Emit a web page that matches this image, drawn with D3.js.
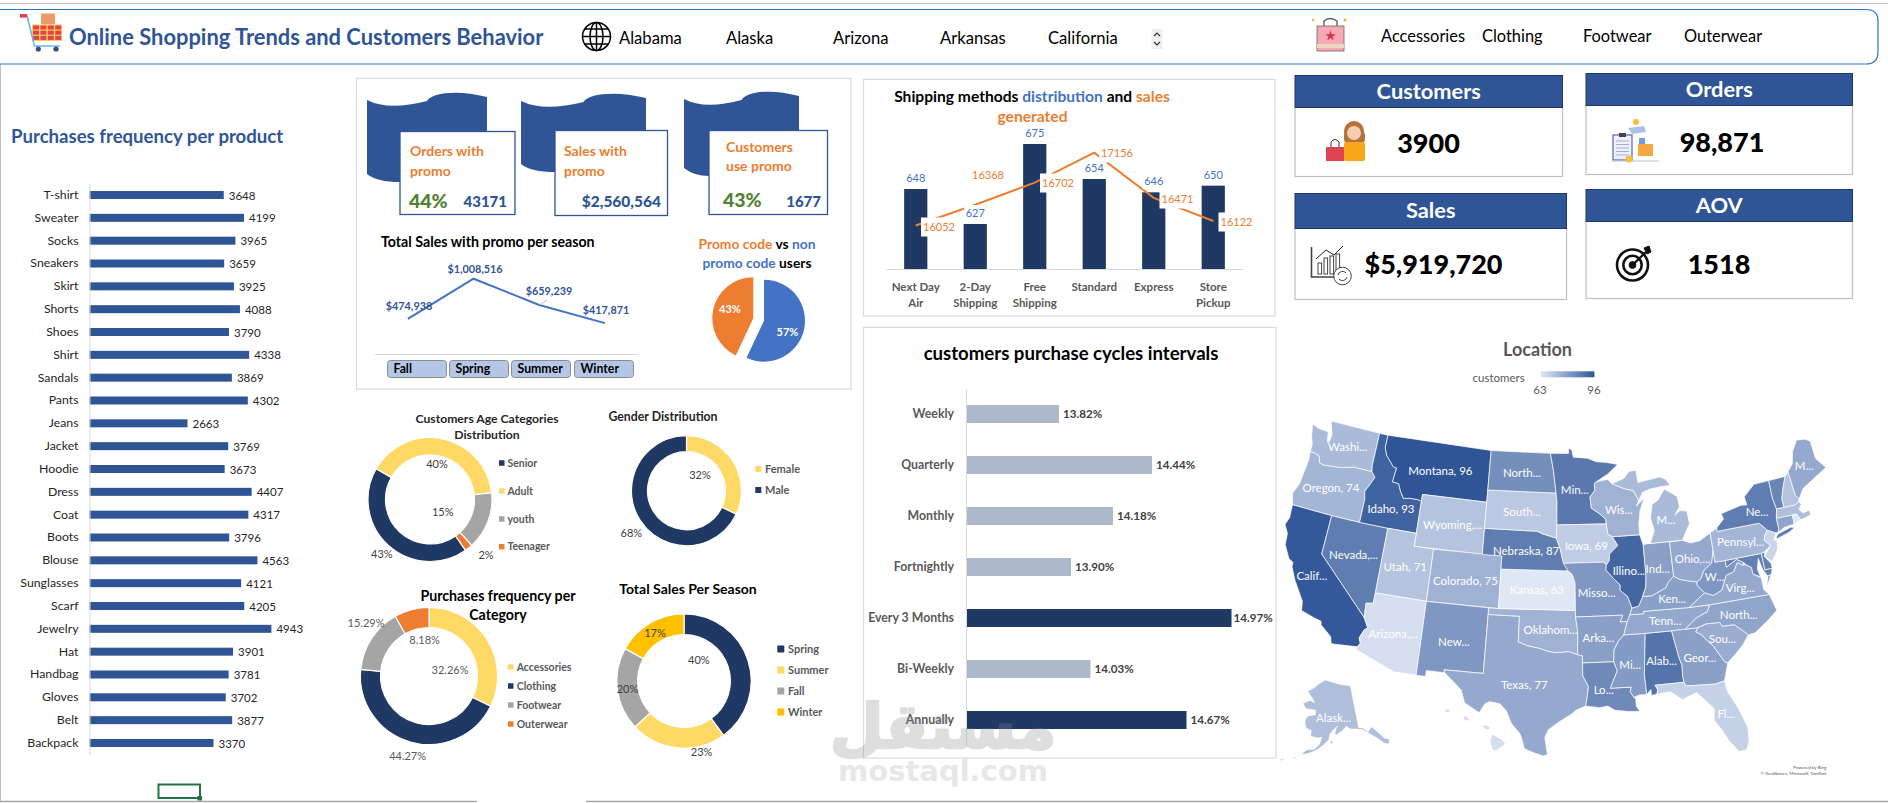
<!DOCTYPE html>
<html>
<head>
<meta charset="utf-8">
<script src="https://cdn.jsdelivr.net/npm/d3@7.9.0/dist/d3.min.js"></script>
<style>
  html, body { margin: 0; padding: 0; background: #fff; overflow: hidden; }
  svg { display: block; font-family: Lato, "Noto Sans", sans-serif; }
</style>
</head>
<body>
<svg id="board" width="1888" height="803"></svg>
<script>
// ---- data ----
const stateNames = ['Alabama', 'Alaska', 'Arizona', 'Arkansas', 'California'];
const categoryNames = ['Accessories', 'Clothing', 'Footwear', 'Outerwear'];

const products = ['T-shirt', 'Sweater', 'Socks', 'Sneakers', 'Skirt', 'Shorts', 'Shoes', 'Shirt', 'Sandals', 'Pants', 'Jeans', 'Jacket', 'Hoodie', 'Dress', 'Coat', 'Boots', 'Blouse', 'Sunglasses', 'Scarf', 'Jewelry', 'Hat', 'Handbag', 'Gloves', 'Belt', 'Backpack'];
const productCounts = [3648, 4199, 3965, 3659, 3925, 4088, 3790, 4338, 3869, 4302, 2663, 3769, 3673, 4407, 4317, 3796, 4563, 4121, 4205, 4943, 3901, 3781, 3702, 3877, 3370];

const seasons = ['Fall', 'Spring', 'Summer', 'Winter'];
const promoSales = [474938, 1008516, 659239, 417871];
const promoShare = [57, 43];

const shipMethods = ['Next Day Air', '2-Day Shipping', 'Free Shipping', 'Standard', 'Express', 'Store Pickup'];
const shipCounts = [648, 627, 675, 654, 646, 650];
const shipSales = [16052, 16368, 16702, 17156, 16471, 16122];

const cycles = ['Weekly', 'Quarterly', 'Monthly', 'Fortnightly', 'Every 3 Months', 'Bi-Weekly', 'Annually'];
const cycleShares = [13.82, 14.44, 14.18, 13.90, 14.97, 14.03, 14.67];

const ageNames = ['Senior', 'Adult', 'youth', 'Teenager'];
const ageShares = [43, 40, 15, 2];
const genderNames = ['Female', 'Male'];
const genderShares = [32, 68];
const categoryShares = [32.26, 44.27, 15.29, 8.18];
const seasonNames = ['Spring', 'Summer', 'Fall', 'Winter'];
const seasonShares = [40, 23, 20, 17];

const customersByState = {
  Alabama: 89, Alaska: 72, Arizona: 65, Arkansas: 79, California: 95, Colorado: 75, Connecticut: 78, Delaware: 86,
  Florida: 68, Georgia: 79, Hawaii: 65, Idaho: 93, Illinois: 92, Indiana: 79, Iowa: 69, Kansas: 63, Kentucky: 79,
  Louisiana: 84, Maine: 77, Maryland: 86, Massachusetts: 72, Michigan: 73, Minnesota: 88, Mississippi: 80,
  Missouri: 81, Montana: 96, Nebraska: 87, Nevada: 87, 'New Hampshire': 71, 'New Jersey': 67, 'New Mexico': 81,
  'New York': 87, 'North Carolina': 78, 'North Dakota': 83, Ohio: 77, Oklahoma: 75, Oregon: 74, Pennsylvania: 74,
  'Rhode Island': 63, 'South Carolina': 76, 'South Dakota': 70, Tennessee: 77, Texas: 77, Utah: 71, Vermont: 85,
  Virginia: 77, Washington: 73, 'West Virginia': 81, Wisconsin: 75, Wyoming: 71
};

// state outlines, lon,lat, simplified by hand; a "|" starts another ring
const stateOutlines = {
  Washington: '-124.73,48.38 -123.9,48.17 -123.1,48.15 -122.75,48.12 -122.55,47.35 -122.35,47.4 -122.25,48 -122.5,48.45 -122.76,49 -117.03,49 -117.04,46.42 -116.92,45.99 -118.98,46 -119.3,45.93 -120.5,45.7 -121.2,45.65 -122.2,45.57 -122.75,45.65 -122.95,46.12 -123.45,46.25 -124.05,46.27 -124.1,46.9 -124.4,47.4',
  Oregon: '-124.05,46.27 -123.45,46.25 -122.95,46.12 -122.75,45.65 -122.2,45.57 -121.2,45.65 -120.5,45.7 -119.3,45.93 -118.98,46 -116.92,45.99 -116.47,45.6 -116.85,44.95 -117.22,44.4 -117.03,43.8 -117.03,42 -120,42 -124.21,42 -124.55,42.84 -124.15,43.7 -124.05,44.7 -123.95,45.6',
  California: '-124.21,42 -120,42 -120,39 -114.63,35 -114.13,34.3 -114.43,34.05 -114.72,33.4 -114.52,33.03 -114.72,32.72 -117.12,32.53 -117.3,33.05 -118.4,33.75 -118.5,34.03 -119.2,34.15 -120.5,34.45 -120.65,35.15 -121.9,36.6 -122.5,37.5 -122.5,37.8 -123,38 -123.75,38.95 -123.85,39.8 -124.35,40.4 -124.1,41',
  Nevada: '-120,42 -117.03,42 -114.04,42 -114.04,37 -114.05,36.2 -114.73,36.1 -114.63,35 -120,39',
  Idaho: '-117.03,49 -116.05,49 -116.05,48 -115.7,47.45 -114.75,46.7 -114.35,46.65 -114.5,45.55 -113.8,45.5 -113.45,44.95 -113,44.45 -112.3,44.55 -111.5,44.55 -111.05,44.48 -111.05,42 -114.04,42 -117.03,42 -117.03,43.8 -117.22,44.4 -116.85,44.95 -116.47,45.6 -116.92,45.99 -117.04,46.42',
  Montana: '-116.05,49 -104.05,49 -104.05,45 -111.05,45 -111.05,44.48 -111.5,44.55 -112.3,44.55 -113,44.45 -113.45,44.95 -113.8,45.5 -114.5,45.55 -114.35,46.65 -114.75,46.7 -115.7,47.45 -116.05,48',
  Wyoming: '-111.05,45 -104.05,45 -104.05,41 -111.05,41',
  Utah: '-114.04,42 -111.05,42 -111.05,41 -109.05,41 -109.05,37 -114.04,37',
  Colorado: '-109.05,41 -102.05,41 -102.05,37 -109.05,37',
  Arizona: '-114.04,37 -109.05,37 -109.05,31.33 -111.07,31.33 -114.8,32.5 -114.72,32.72 -114.52,33.03 -114.72,33.4 -114.43,34.05 -114.13,34.3 -114.63,35 -114.73,36.1 -114.05,36.2',
  'New Mexico': '-109.05,37 -103,37 -103.05,32 -106.62,32 -106.53,31.78 -108.2,31.78 -108.2,31.33 -109.05,31.33',
  Texas: '-103,36.5 -100,36.5 -100,34.56 -99.2,34.3 -98.1,34.13 -97.2,33.9 -96.5,33.8 -95.3,33.88 -94.48,33.64 -94.04,33.55 -94.04,33 -94.04,32 -93.55,31.2 -93.7,30.3 -93.85,29.7 -94.7,29.4 -95.1,29.1 -96.2,28.5 -97.1,27.9 -97.4,27.3 -97.15,26 -97.5,25.87 -98.3,26.1 -99.1,26.4 -99.5,27.5 -100.3,28.3 -100.8,29.25 -101.4,29.77 -102.3,29.88 -102.7,29.7 -103.15,28.98 -104.5,29.65 -104.9,30.6 -106.53,31.78 -106.62,32 -103.05,32',
  Oklahoma: '-103,37 -102.05,37 -94.62,37 -94.62,36.5 -94.43,35.4 -94.48,33.64 -95.3,33.88 -96.5,33.8 -97.2,33.9 -98.1,34.13 -99.2,34.3 -100,34.56 -100,36.5 -103,36.5',
  Kansas: '-102.05,40 -95.3,40 -94.9,39.75 -94.62,39.1 -94.62,37 -102.05,37',
  Nebraska: '-104.05,43 -98.5,43 -97.9,42.8 -96.5,42.5 -96.1,41.7 -95.9,41 -95.3,40 -102.05,40 -102.05,41 -104.05,41',
  'South Dakota': '-104.05,45.94 -96.56,45.94 -96.45,45.3 -96.45,43.5 -96.5,42.5 -97.9,42.8 -98.5,43 -104.05,43',
  'North Dakota': '-104.05,49 -97.23,49 -96.85,47.6 -96.56,45.94 -104.05,45.94',
  Minnesota: '-97.23,49 -95.15,49 -95.15,49.38 -94.8,49.3 -94.6,48.7 -93,48.6 -92,48.3 -90.8,48.2 -89.6,48 -90.8,47.3 -92.1,46.75 -92.3,46.65 -92.3,46.1 -92.85,45.6 -92.75,44.75 -91.9,44.3 -91.25,43.85 -91.22,43.5 -96.45,43.5 -96.45,45.3 -96.56,45.94 -96.85,47.6',
  Iowa: '-96.45,43.5 -91.22,43.5 -91.1,42.7 -90.65,42.5 -90.15,41.8 -91.05,41.2 -91.1,40.7 -91.42,40.38 -91.7,40.6 -95.77,40.58 -95.9,41 -96.1,41.7 -96.5,42.5',
  Missouri: '-95.77,40.58 -91.7,40.6 -91.42,40.38 -91.5,40 -90.75,39.3 -90.15,38.8 -90.2,38.4 -89.5,37.9 -89.15,37 -89.4,36.5 -89.7,36 -90.37,36 -90.1,36.5 -94.62,36.5 -94.62,37 -94.62,39.1 -94.9,39.75 -95.3,40',
  Arkansas: '-94.62,36.5 -90.1,36.5 -90.37,36 -89.7,36 -90.1,35 -90.6,34.6 -91.1,33.9 -91.17,33 -94.04,33 -94.04,33.55 -94.48,33.64 -94.43,35.4',
  Louisiana: '-94.04,33 -91.17,33 -90.9,32.3 -91.6,31 -89.73,31 -89.85,30.65 -89.55,30.2 -89.4,30.05 -89.4,29.5 -89.1,29.1 -90.1,29.15 -91.3,29.3 -91.9,29.65 -92.6,29.55 -93.85,29.7 -93.7,30.3 -93.55,31.2 -94.04,32',
  Mississippi: '-90.1,35 -88.2,35 -88.1,34.9 -88.47,31.9 -88.4,30.35 -89.1,30.35 -89.55,30.2 -89.85,30.65 -89.73,31 -91.6,31 -90.9,32.3 -91.17,33 -91.1,33.9 -90.6,34.6',
  Alabama: '-88.2,35 -85.6,35 -85.18,32.87 -85,32.3 -85.05,31.55 -85,31 -87.6,31 -87.4,30.65 -87.5,30.3 -88,30.25 -88,30.7 -88.4,30.35 -88.47,31.9 -88.1,34.9',
  Tennessee: '-89.7,36 -89.4,36.5 -88.07,36.5 -88.07,36.68 -83.68,36.6 -81.68,36.59 -82,36.1 -83.1,35.75 -84.3,35 -85.6,35 -88.2,35 -90.1,35',
  Kentucky: '-89.4,36.5 -89.15,37 -88.5,37.1 -88.05,37.8 -87.1,37.8 -86.3,38.1 -85.7,38.3 -85.4,38.7 -84.8,39.1 -84.2,38.8 -83.6,38.65 -82.6,38.45 -82.6,38.15 -82,37.55 -83.68,36.6 -88.07,36.68 -88.07,36.5',
  Illinois: '-90.65,42.5 -87.8,42.5 -87.53,41.7 -87.53,39.35 -87.65,38.5 -88.05,37.8 -88.5,37.1 -89.15,37 -89.5,37.9 -90.2,38.4 -90.15,38.8 -90.75,39.3 -91.5,40 -91.42,40.38 -91.1,40.7 -91.05,41.2 -90.15,41.8',
  Indiana: '-87.53,41.7 -87.2,41.76 -84.8,41.76 -84.8,39.1 -85.4,38.7 -85.7,38.3 -86.3,38.1 -87.1,37.8 -88.05,37.8 -87.65,38.5 -87.53,39.35',
  Ohio: '-84.8,41.72 -83.45,41.73 -82.7,41.45 -81.7,41.5 -80.52,41.98 -80.52,40.64 -80.85,39.7 -81.7,39.25 -82.2,38.6 -82.6,38.45 -83.6,38.65 -84.2,38.8 -84.8,39.1',
  Michigan: '-86.8,41.76 -84.8,41.76 -83.45,41.73 -83.1,42.2 -82.5,42.9 -82.6,43.9 -83.3,44 -83.9,43.7 -83.3,44.3 -83.4,45.1 -84.7,45.78 -85.5,45 -86.2,44.7 -86.5,43.7 -86.25,42.7|-90.4,46.55 -89,46.9 -88.4,47.4 -87.6,47.45 -87.5,46.5 -85,46.75 -84.4,46.5 -84,46 -85,46 -86.3,45.9 -87.1,45.7 -87.6,45.1 -88.1,45.9 -89.1,46.1',
  Wisconsin: '-92.1,46.75 -90.8,46.9 -90.4,46.55 -89.1,46.1 -88.1,45.9 -87.6,45.1 -87.9,44.7 -87,45.25 -87.55,44.3 -87.8,43.3 -87.8,42.5 -90.65,42.5 -91.1,42.7 -91.22,43.5 -91.25,43.85 -91.9,44.3 -92.75,44.75 -92.85,45.6 -92.3,46.1 -92.3,46.65',
  Georgia: '-85.6,35 -84.3,35 -83.1,35 -83.35,34.7 -82.9,34.45 -81.9,33.4 -81.1,32.1 -80.85,32.03 -81.4,30.7 -82,30.6 -82.2,30.55 -84.85,30.7 -85,31 -85.05,31.55 -85,32.3 -85.18,32.87',
  Florida: '-87.6,31 -85,31 -84.85,30.7 -82.2,30.55 -82,30.6 -81.4,30.7 -81.3,29.9 -80.55,28.4 -80.05,26.9 -80.15,25.75 -80.45,25.2 -81.1,25.15 -81.8,26.1 -82.2,26.9 -82.8,27.85 -82.65,28.7 -83.4,29.5 -84,30.1 -85.3,29.7 -86.3,30.4 -87.5,30.3 -87.4,30.65',
  'South Carolina': '-83.35,34.7 -83.1,35 -82.3,35.2 -81,35.15 -80.8,34.82 -79.68,34.8 -78.55,33.86 -79.2,33.2 -80,32.6 -80.85,32.03 -81.1,32.1 -81.9,33.4 -82.9,34.45',
  'North Carolina': '-84.3,35 -83.1,35.75 -82,36.1 -81.68,36.59 -75.87,36.55 -75.5,35.25 -76.5,34.65 -77.9,33.9 -78.55,33.86 -79.68,34.8 -80.8,34.82 -81,35.15 -82.3,35.2 -83.1,35',
  Virginia: '-83.68,36.6 -81.68,36.59 -75.87,36.55 -76.3,37 -76.3,37.9 -77,38.3 -77.05,38.85 -77.5,39.1 -77.83,39.14 -78.35,39.4 -78.85,38.75 -79.65,38.6 -80.3,37.55 -81.2,37.25 -82,37.55|-75.95,37.15 -75.25,38.03 -75.65,37.95',
  'West Virginia': '-82.6,38.45 -82.2,38.6 -81.7,39.25 -80.85,39.7 -80.52,40.64 -80.52,39.72 -79.48,39.72 -79.48,39.2 -78.35,39.65 -77.72,39.32 -77.83,39.14 -78.35,39.4 -78.85,38.75 -79.65,38.6 -80.3,37.55 -81.2,37.25 -82,37.55 -82.6,38.15',
  Maryland: '-79.48,39.72 -75.79,39.72 -75.79,38.45 -75.05,38.45 -75.25,38.03 -75.65,37.95 -76,38.5 -76.2,39.4 -76.5,38.6 -76.35,38 -77,38.3 -77.05,38.85 -77.5,39.1 -77.72,39.32 -78.35,39.65 -79.48,39.2',
  Delaware: '-75.79,39.72 -75.45,39.8 -75.55,39.45 -75.05,38.8 -75.05,38.45 -75.79,38.45',
  Pennsylvania: '-80.52,41.98 -79.76,42.27 -79.76,42 -75.35,42 -74.7,41.36 -75.1,40.95 -75.2,40.65 -74.72,40.15 -75.45,39.8 -75.79,39.72 -79.48,39.72 -80.52,39.72 -80.52,40.64',
  'New Jersey': '-74.7,41.36 -73.9,41 -74.25,40.5 -73.98,40.4 -74.1,39.75 -74.9,38.95 -75.55,39.45 -74.72,40.15 -75.2,40.65 -75.1,40.95',
  'New York': '-79.76,42.27 -78.9,42.85 -79.05,43.27 -76.8,43.63 -76.2,43.55 -76.3,44.2 -75,44.98 -73.35,45 -73.4,43.6 -73.25,42.75 -73.5,42.05 -73.5,41.3 -73.65,41 -73.9,41 -74.7,41.36 -75.35,42 -79.76,42|-74,40.6 -73.75,40.87 -72.3,41.15 -71.9,41.05 -72.6,40.8 -73.9,40.55',
  Vermont: '-73.35,45 -71.5,45.01 -72.05,44.2 -72.45,43.4 -72.46,42.73 -73.25,42.75 -73.4,43.6',
  'New Hampshire': '-71.5,45.01 -71.08,45.3 -70.98,43.4 -70.7,43.07 -70.82,42.87 -71.3,42.7 -72.46,42.73 -72.45,43.4 -72.05,44.2',
  Maine: '-71.08,45.3 -70.4,45.8 -70,46.7 -69.23,47.46 -68.3,47.35 -67.8,47.07 -67.8,45.7 -67.45,45.3 -67,44.8 -68.5,44.3 -70,43.75 -70.7,43.07 -70.98,43.4',
  Massachusetts: '-73.5,42.05 -73.25,42.75 -72.46,42.73 -71.3,42.7 -70.82,42.87 -70.6,42.65 -71,42.3 -70.65,41.95 -70,42.05 -69.95,41.68 -70.65,41.55 -71.12,41.5 -71.38,42.02 -71.8,42.02',
  Connecticut: '-73.5,42.05 -71.8,42.02 -71.85,41.32 -72.9,41.25 -73.65,41 -73.5,41.3',
  'Rhode Island': '-71.8,42.02 -71.38,42.02 -71.12,41.5 -71.85,41.32',
  Alaska: '-141,69.65 -141,60.3 -139,59.9 -137.5,58.9 -135.5,59.8 -133.8,58.5 -131.8,56.6 -130,55.9 -130.9,55 -132.5,55.5 -134.5,57 -136.5,58.1 -139.5,59.6 -142,60 -144.5,60.2 -146.5,60.9 -148.5,60 -150.8,59.3 -151.8,59.2 -151,60.8 -150,61.2 -152.5,60.3 -153.8,59.4 -154.2,58.2 -156.5,57 -158.8,55.9 -161,55.2 -163,54.7 -164.9,54.6 -162.5,55.8 -160,56 -158,57.2 -157.3,58.7 -158.8,58.5 -162,58.7 -162,60 -164.5,60.4 -165.5,61.7 -165,62.7 -164,63.1 -161,63.5 -161,64.5 -166,64.5 -168.1,65.6 -164.5,66.5 -162,66.1 -163.8,67.1 -166.8,68.35 -163,69.5 -161,70.3 -156.6,71.35 -152,70.85 -146,70.1|-168,53.2 -166.2,53.9 -166.6,53.4|-154,57.9 -152.4,58 -153.2,57.1|-172.5,52.3 -170.5,52.9 -171,52.3',
  Hawaii: '-155.9,20.25 -155.1,19.85 -154.8,19.5 -155.65,18.95 -155.9,19.1 -156.05,19.7|-156.7,20.95 -156.25,20.95 -156,20.7 -156.4,20.58|-158.25,21.55 -157.95,21.7 -157.65,21.3 -158.1,21.3|-159.75,22.1 -159.4,22.23 -159.3,22 -159.6,21.9'
};

// the truncated Bing labels and where they hang, lon,lat
const stateLabels = [
  ['Washi...', -120.2, 47.4], ['Montana, 96', -109.5, 47.0], ['North...', -100.4, 47.4], ['Min...', -94.5, 46.2],
  ['Oregon, 74', -120.8, 44.0], ['Idaho, 93', -114.1, 43.5], ['South...', -100.2, 44.4], ['Wyoming,...', -107.4, 43.0],
  ['Wis...', -89.8, 44.5], ['M...', -84.9, 43.4], ['Ne...', -75.3, 42.9], ['M...', -69.2, 45.4],
  ['Nebraska, 87', -99.6, 41.5], ['Iowa, 69', -93.4, 41.9], ['Pennsyl...', -77.6, 40.9], ['Ohio,...', -82.7, 40.2],
  ['Ind...', -86.3, 39.8], ['Illino...', -89.2, 39.8], ['Nevada,...', -116.9, 39.5], ['Utah, 71', -111.6, 39.3],
  ['Colorado, 75', -105.5, 38.9], ['Kansas, 63', -98.4, 38.5], ['Misso...', -92.5, 38.3], ['W...', -80.8, 38.6],
  ['Virg...', -78.5, 37.5], ['Calif...', -120.4, 37.2], ['Ken...', -85.2, 37.4], ['Tenn...', -86.1, 35.8],
  ['North...', -79.1, 35.5], ['Oklahom...', -97.0, 35.5], ['Arka...', -92.5, 34.9], ['Arizona,...', -111.7, 34.2],
  ['New...', -106.0, 34.2], ['Sou...', -81, 33.9], ['Geor...', -83.3, 32.7], ['Alab...', -86.8, 32.8],
  ['Mi...', -89.7, 32.7], ['Lo...', -92.2, 30.9], ['Texas, 77', -99.3, 31.3], ['Fl...', -81.7, 28.2], ['Alask...', -152, 63]
];

// ---- colours ----
const navy = '#1f3864', blue = '#2f5597', midBlue = '#4472c4', orange = '#ed7d31', green = '#548235';
const yellow = '#ffd966', grey = '#a5a5a5', gold = '#ffc000', textGrey = '#595959', frame = '#d9d9d9';

const svg = d3.select('#board');

function put(x, y, str, size, fill, opts = {}) {
  return svg.append('text')
    .attr('x', x).attr('y', y)
    .attr('dy', '0.35em')
    .attr('font-size', size)
    .attr('fill', fill)
    .attr('font-weight', opts.weight || 400)
    .attr('text-anchor', opts.anchor || 'start')
    .text(str);
}

function box(x0, y0, x1, y1, stroke, fill = 'none', width = 1) {
  return svg.append('rect')
    .attr('x', x0).attr('y', y0)
    .attr('width', x1 - x0).attr('height', y1 - y0)
    .attr('fill', fill).attr('stroke', stroke).attr('stroke-width', width);
}

// ---- sheet chrome and header ----
svg.append('line').attr('x1', 0).attr('x2', 1888).attr('y1', 3.5).attr('y2', 3.5).attr('stroke', '#bfbfbf');
svg.append('line').attr('x1', 0.5).attr('x2', 0.5).attr('y1', 64).attr('y2', 801).attr('stroke', '#bfbfbf');
svg.append('path')
  .attr('d', 'M0,9.5H1866Q1878,9.5 1878,21V52Q1878,64 1866,64H0')
  .attr('fill', 'none').attr('stroke', '#2e75b6').attr('stroke-width', 1.2);
svg.append('line').attr('x1', 0).attr('x2', 477).attr('y1', 801.5).attr('y2', 801.5).attr('stroke', '#a6a6a6').attr('stroke-width', 1.5);
svg.append('line').attr('x1', 586).attr('x2', 1888).attr('y1', 801.5).attr('y2', 801.5).attr('stroke', '#a6a6a6').attr('stroke-width', 1.5);
box(158.5, 784.5, 200, 798, '#217346', 'none', 2);
box(197.5, 796, 202, 800.5, '#217346', '#217346', 0);

// cart icon
const cart = svg.append('g');
cart.append('rect').attr('x', 41).attr('y', 13.5).attr('width', 14).attr('height', 11).attr('fill', '#ec9a6c');
cart.append('rect').attr('x', 32).attr('y', 24.5).attr('width', 30).attr('height', 16.5).attr('fill', '#ffcc5c');
d3.range(3).forEach(r => d3.range(4).forEach(c => {
  cart.append('rect').attr('x', 33 + c * 7.4).attr('y', 25.5 + r * 5.2).attr('width', 6).attr('height', 4).attr('fill', '#e0434b');
}));
cart.append('path').attr('d', 'M27,15.5L34.5,46H60').attr('fill', 'none').attr('stroke', '#6db3e8').attr('stroke-width', 1.6);
cart.append('rect').attr('x', 20).attr('y', 14).attr('width', 7).attr('height', 3.6).attr('fill', '#e0434b');
cart.append('circle').attr('cx', 38.3).attr('cy', 49).attr('r', 2.6).attr('fill', '#33507a');
cart.append('circle').attr('cx', 56).attr('cy', 49).attr('r', 2.6).attr('fill', '#33507a');

put(69, 37.5, 'Online Shopping Trends and Customers Behavior', 21.9, blue, { weight: 700 });

// globe icon
const globe = svg.append('g').attr('fill', 'none').attr('stroke', '#000').attr('stroke-width', 1.5);
globe.append('circle').attr('cx', 596.5).attr('cy', 36.5).attr('r', 14);
globe.append('ellipse').attr('cx', 596.5).attr('cy', 36.5).attr('rx', 6.5).attr('ry', 14);
globe.append('line').attr('x1', 596.5).attr('x2', 596.5).attr('y1', 22.5).attr('y2', 50.5);
globe.append('line').attr('x1', 582.5).attr('x2', 610.5).attr('y1', 36.5).attr('y2', 36.5);
globe.append('line').attr('x1', 585).attr('x2', 608).attr('y1', 29).attr('y2', 29);
globe.append('line').attr('x1', 585).attr('x2', 608).attr('y1', 44).attr('y2', 44);

const stateSlicerX = [619, 726, 833, 940, 1048];
stateNames.forEach((s, i) => put(stateSlicerX[i], 38, s, 16.6, '#000'));
svg.append('rect').attr('x', 1151.5).attr('y', 29).attr('width', 11).attr('height', 20).attr('fill', '#efefef');
svg.append('path').attr('d', 'M1154,36L1157,33L1160,36M1154,42L1157,45L1160,42').attr('fill', 'none').attr('stroke', '#333').attr('stroke-width', 1.2);

// shopping bag icon
const bag = svg.append('g');
bag.append('path').attr('d', 'M1324,27V21Q1330,16 1337,21V27').attr('fill', 'none').attr('stroke', '#555').attr('stroke-width', 1.3);
bag.append('rect').attr('x', 1317).attr('y', 26).attr('width', 27).attr('height', 25).attr('fill', '#f7a8b4').attr('stroke', '#666').attr('stroke-width', 0.8);
bag.append('rect').attr('x', 1317).attr('y', 44).attr('width', 27).attr('height', 4).attr('fill', '#e9d7c2');
bag.append('path').attr('d', d3.symbol(d3.symbolStar, 34)()).attr('transform', 'translate(1330.5,36)').attr('fill', '#d8344f');
bag.append('circle').attr('cx', 1313).attr('cy', 20).attr('r', 1.2).attr('fill', '#e2b93b');
bag.append('circle').attr('cx', 1345).attr('cy', 20).attr('r', 1.5).attr('fill', '#e2b93b');

const categorySlicerX = [1381, 1482, 1583, 1684];
categoryNames.forEach((s, i) => put(categorySlicerX[i], 36, s, 16.4, '#000'));

// ---- purchases per product ----
put(11, 136, 'Purchases frequency per product', 18.6, blue, { weight: 700 });

const productY = d3.scaleBand(products, [183.6, 754.4]).paddingInner(0.65).paddingOuter(0.325);
const productX = d3.scaleLinear([0, 5000], [89.5, 273.5]);

svg.append('g').selectAll('rect')
  .data(products)
  .join('rect')
  .attr('x', productX(0))
  .attr('y', d => productY(d))
  .attr('width', (d, i) => productX(productCounts[i]) - productX(0))
  .attr('height', productY.bandwidth())
  .attr('fill', blue);

svg.append('g').selectAll('text')
  .data(products)
  .join('text')
  .attr('x', (d, i) => productX(productCounts[i]) + 5)
  .attr('y', d => productY(d) + productY.bandwidth() / 2 + 0.5)
  .attr('dy', '0.35em')
  .attr('font-size', 11.5)
  .attr('fill', '#262626')
  .text((d, i) => productCounts[i]);

const productAxis = svg.append('g')
  .attr('transform', `translate(${productX(0)},0)`)
  .call(d3.axisLeft(productY).tickSize(0).tickPadding(11));
productAxis.select('.domain').attr('stroke', '#d9d9d9');
productAxis.selectAll('text').attr('font-size', 12.3).attr('font-family', 'Lato').attr('fill', '#262626');

// ---- promo panel ----
box(356.5, 78.5, 851, 389, frame, 'none', 1.2);

const promoCards = [
  { left: 367, right: 487, top: 91, lower: 182, bx0: 400, bx1: 515, by0: 131.5, by1: 214.5 },
  { left: 521, right: 646, top: 92, lower: 172, bx0: 555, bx1: 667.5, by0: 130.5, by1: 215.5 },
  { left: 684, right: 799, top: 90, lower: 176, bx0: 709, bx1: 827.5, by0: 130.5, by1: 214.5 }
];
promoCards.forEach(c => {
  const w = c.right - c.left;
  const notch = c.left + w * 0.5;
  svg.append('path')
    .attr('d', `M${c.left},${c.top + 9}
      Q${c.left + w * 0.18},${c.top + 20} ${notch},${c.top + 10}
      C${notch + 4},${c.top + 2} ${c.right - w * 0.25},${c.top - 2} ${c.right},${c.top + 6}
      V${c.by0} H${c.bx0} V${c.lower} Q${c.left + 10},${c.lower} ${c.left},${c.lower - 8} Z`)
    .attr('fill', blue);
  box(c.bx0, c.by0, c.bx1, c.by1, blue, '#fff', 1.3);
});

put(410, 151, 'Orders with', 14, orange, { weight: 700 });
put(410, 171, 'promo', 14, orange, { weight: 700 });
put(409, 201, '44%', 19.5, green, { weight: 900 });
put(507, 202, '43171', 15, blue, { weight: 900, anchor: 'end' });
put(564, 151, 'Sales with', 14, orange, { weight: 700 });
put(564, 171, 'promo', 14, orange, { weight: 700 });
put(661, 202, '$2,560,564', 15.5, blue, { weight: 900, anchor: 'end' });
put(726, 147, 'Customers', 14, orange, { weight: 700 });
put(726, 166, 'use promo', 14, orange, { weight: 700 });
put(723, 200, '43%', 19.5, green, { weight: 900 });
put(821, 202, '1677', 15, blue, { weight: 900, anchor: 'end' });

put(381, 242, 'Total Sales with promo per season', 14.2, '#000', { weight: 700 });

const seasonX = d3.scalePoint(seasons, [375, 637.7]).padding(0.5);
const promoY = d3.scaleLinear([0, 1008516], [354.5, 278.7]);
const promoLine = d3.line().x((d, i) => seasonX(seasons[i])).y(d => promoY(d));

svg.append('line').attr('x1', 375).attr('x2', 637.7).attr('y1', 354.5).attr('y2', 354.5).attr('stroke', '#d9d9d9');
svg.append('path').attr('d', promoLine(promoSales)).attr('fill', 'none').attr('stroke', midBlue).attr('stroke-width', 2);
svg.append('line').attr('x1', 540).attr('x2', 547).attr('y1', 305).attr('y2', 300).attr('stroke', '#bfbfbf');

const promoLabelPos = [[409, 306], [475, 269], [549, 291], [606, 310]];
promoSales.forEach((v, i) => {
  put(promoLabelPos[i][0], promoLabelPos[i][1], d3.format('$,')(v), 10.8, blue, { anchor: 'middle', weight: 700 });
});

const seasonButtonX = [387.5, 449.5, 511.5, 574.5];
seasons.forEach((s, i) => {
  svg.append('rect')
    .attr('x', seasonButtonX[i]).attr('y', 360.5)
    .attr('width', 59).attr('height', 17).attr('rx', 3)
    .attr('fill', '#b4c7e7').attr('stroke', '#8c8c8c');
  put(seasonButtonX[i] + 6, 369, s, 12.3, '#000', { weight: 700 });
});

function mixedLine(cx, y, size, parts) {
  const t = svg.append('text').attr('x', cx).attr('y', y).attr('dy', '0.35em')
    .attr('font-size', size).attr('font-weight', 700).attr('text-anchor', 'middle');
  parts.forEach(([str, fill]) => t.append('tspan').attr('fill', fill).text(str));
}
mixedLine(757, 243.7, 13.8, [['Promo code ', orange], ['vs ', '#000'], ['non', midBlue]]);
mixedLine(757, 262.7, 13.8, [['promo code ', midBlue], ['users', '#000']]);

const promoPie = d3.pie().sort(null)(promoShare);
const promoArc = d3.arc().innerRadius(0).outerRadius(41);
const promoFill = [midBlue, orange];
promoPie.forEach((p, i) => {
  const mid = (p.startAngle + p.endAngle) / 2;
  const off = i === 1 ? 11 : 0;
  const tx = 764 + Math.sin(mid) * off, ty = 320.7 - Math.cos(mid) * off;
  svg.append('path').attr('d', promoArc(p)).attr('transform', `translate(${tx},${ty})`).attr('fill', promoFill[i]);
});
put(730, 309, '43%', 11, '#fff', { anchor: 'middle', weight: 700 });
put(787.5, 332, '57%', 11, '#fff', { anchor: 'middle', weight: 700 });

// ---- shipping panel ----
box(863.5, 79.5, 1275, 316, frame, 'none', 1.2);
mixedLine(1032, 97, 15.6, [['Shipping methods ', '#000'], ['distribution ', midBlue], ['and ', '#000'], ['sales', orange]]);
mixedLine(1032.5, 117, 15.6, [['generated', orange]]);

const shipX = d3.scaleBand(shipMethods, [886, 1243]).paddingInner(0.61).paddingOuter(0.305);
const shipY = d3.scaleLinear([600, 675], [269, 144]);
const salesY = d3.scaleLinear([16000, 17156], [229, 152.7]);

svg.append('g').selectAll('rect')
  .data(shipMethods)
  .join('rect')
  .attr('x', d => shipX(d))
  .attr('y', (d, i) => shipY(shipCounts[i]))
  .attr('width', shipX.bandwidth())
  .attr('height', (d, i) => 269 - shipY(shipCounts[i]))
  .attr('fill', navy);

const salesLine = d3.line()
  .x((d, i) => shipX(shipMethods[i]) + shipX.bandwidth() / 2)
  .y(d => salesY(d));
svg.append('path').attr('d', salesLine(shipSales)).attr('fill', 'none').attr('stroke', orange).attr('stroke-width', 2);

shipCounts.forEach((v, i) => {
  const cx = shipX(shipMethods[i]) + shipX.bandwidth() / 2;
  const y = shipY(v) - 11;
  svg.append('rect').attr('x', cx - 11).attr('y', y - 8).attr('width', 22).attr('height', 16).attr('fill', '#fff');
  put(cx, y, v, 11, midBlue, { anchor: 'middle' });
});
const salesLabelX = [939, 988, 1058, 1117, 1177.5, 1236.5];
const salesLabelY = [227, 175, 183, 153, 199, 222];
shipSales.forEach((v, i) => {
  svg.append('rect').attr('x', salesLabelX[i] - 18).attr('y', salesLabelY[i] - 9.5).attr('width', 36).attr('height', 19).attr('fill', '#fff');
  put(salesLabelX[i], salesLabelY[i], v, 11, orange, { anchor: 'middle' });
});

const shipAxis = svg.append('g')
  .attr('transform', 'translate(0,269)')
  .call(d3.axisBottom(shipX).tickSize(0).tickFormat(''));
shipAxis.select('.domain').attr('stroke', '#d9d9d9');
const shipLabelLines = [['Next Day', 'Air'], ['2-Day', 'Shipping'], ['Free', 'Shipping'], ['Standard'], ['Express'], ['Store', 'Pickup']];
shipLabelLines.forEach((lines, i) => {
  const cx = shipX(shipMethods[i]) + shipX.bandwidth() / 2;
  lines.forEach((l, j) => put(cx, 287 + j * 16, l, 11.5, textGrey, { anchor: 'middle', weight: 700 }));
});

// ---- purchase cycles ----
box(863.5, 327.5, 1276, 758, frame, 'none', 1.2);
put(1071, 353, 'customers purchase cycles intervals', 18.6, '#000', { anchor: 'middle', weight: 700 });

const cycleY = d3.scaleBand(cycles, [388.5, 745.5]).paddingInner(0.647).paddingOuter(0.3235);
const cycleX = d3.scaleLinear([13.2, 15], [966, 1236]);

svg.append('g').selectAll('rect')
  .data(cycles)
  .join('rect')
  .attr('x', cycleX.range()[0])
  .attr('y', d => cycleY(d))
  .attr('width', (d, i) => cycleX(cycleShares[i]) - cycleX.range()[0])
  .attr('height', cycleY.bandwidth())
  .attr('fill', d => (d === 'Every 3 Months' || d === 'Annually') ? navy : '#adb9ca');

svg.append('g').selectAll('text')
  .data(cycles)
  .join('text')
  .attr('x', (d, i) => cycleX(cycleShares[i]) + (i === 4 ? 2 : 4))
  .attr('y', d => cycleY(d) + cycleY.bandwidth() / 2)
  .attr('dy', '0.35em')
  .attr('font-size', 11.6)
  .attr('font-weight', 700)
  .attr('fill', '#404040')
  .text((d, i) => cycleShares[i].toFixed(2) + '%');

const cycleAxis = svg.append('g')
  .attr('transform', 'translate(966,0)')
  .call(d3.axisLeft(cycleY).tickSize(0).tickPadding(12));
cycleAxis.select('.domain').attr('stroke', '#d9d9d9');
cycleAxis.selectAll('text').attr('font-size', 12.3).attr('font-family', 'Lato').attr('font-weight', 700).attr('fill', textGrey);

// ---- donuts ----
function donut(values, colors, cx, cy, outer, inner, startAngle) {
  const arcs = d3.pie().sort(null).startAngle(startAngle).endAngle(startAngle + 2 * Math.PI)(values);
  const arc = d3.arc().innerRadius(inner).outerRadius(outer);
  svg.append('g').attr('transform', `translate(${cx},${cy})`)
    .selectAll('path')
    .data(arcs)
    .join('path')
    .attr('d', arc)
    .attr('fill', (d, i) => colors[i])
    .attr('stroke', '#fff')
    .attr('stroke-width', 1.2);
}

function legend(names, colors, swatchX, textX, ys, size, square) {
  names.forEach((n, i) => {
    svg.append('rect').attr('x', swatchX).attr('y', ys[i] - square / 2).attr('width', square).attr('height', square).attr('fill', colors[i]);
    put(textX, ys[i], n, size, textGrey, { weight: 700 });
  });
}

const rad = d => d * Math.PI / 180;

put(487, 419, 'Customers Age Categories', 12.2, '#262626', { anchor: 'middle', weight: 700 });
put(487, 435, 'Distribution', 12.2, '#262626', { anchor: 'middle', weight: 700 });
const ageColors = [navy, yellow, grey, orange];
donut(ageShares, ageColors, 430, 499.5, 62, 44.5, rad(145));
legend(ageNames, ageColors, 499, 507.4, [463, 491, 519, 546.7], 10.5, 5.5);
[[381.8, 554], [437, 464], [442.7, 512], [486, 555]].forEach((p, i) => put(p[0], p[1], ageShares[i] + '%', 11, '#404040', { anchor: 'middle' }));

put(663, 417, 'Gender Distribution', 12.3, '#262626', { anchor: 'middle', weight: 700 });
donut(genderShares, [yellow, navy], 686.5, 490.7, 55, 39, 0);
legend(genderNames, [yellow, navy], 755.3, 765, [469, 490], 11, 6);
[[700, 475], [631.4, 533]].forEach((p, i) => put(p[0], p[1], genderShares[i] + '%', 11, '#404040', { anchor: 'middle' }));

put(498, 595.7, 'Purchases frequency  per', 14.2, '#000', { anchor: 'middle', weight: 700 });
put(498, 615, 'Category', 14.2, '#000', { anchor: 'middle', weight: 700 });
donut(categoryShares, [yellow, navy, grey, orange], 429, 676, 68.6, 48.5, 0);
legend(categoryNames, [yellow, navy, grey, orange], 508, 516.7, [667, 686, 705, 724], 10.5, 5.5);
[[450, 670], [407.6, 756], [366, 623], [424.6, 640]].forEach((p, i) => put(p[0], p[1], categoryShares[i].toFixed(2) + '%', 11, '#595959', { anchor: 'middle' }));

put(688, 589.3, 'Total Sales Per Season', 14, '#000', { anchor: 'middle', weight: 700 });
donut(seasonShares, [navy, yellow, grey, gold], 684, 681, 67.2, 46.4, 0);
legend(seasonNames, [navy, yellow, grey, gold], 777.3, 788, [649, 670, 691, 712], 11, 7);
[[698.8, 660], [701.6, 752], [627.5, 689], [655, 633]].forEach((p, i) => put(p[0], p[1], seasonShares[i] + '%', 11, '#404040', { anchor: 'middle' }));

// ---- KPI cards ----
const kpis = [
  { name: 'Customers', value: '3900', x0: 1295, x1: 1562.5, y0: 75.5, y1: 107.5, y2: 176.5, vx: 1428.5, vy: 144 },
  { name: 'Orders', value: '98,871', x0: 1586, x1: 1852.5, y0: 73.5, y1: 105.5, y2: 174.5, vx: 1722, vy: 142.5 },
  { name: 'Sales', value: '$5,919,720', x0: 1295, x1: 1566.5, y0: 193.5, y1: 228.5, y2: 299.5, vx: 1433.5, vy: 265 },
  { name: 'AOV', value: '1518', x0: 1586, x1: 1852.5, y0: 189.5, y1: 221.5, y2: 298.5, vx: 1719, vy: 265 }
];
kpis.forEach(k => {
  box(k.x0, k.y1, k.x1, k.y2, '#bfbfbf', '#fff', 1.2);
  box(k.x0, k.y0, k.x1, k.y1, '#1f3864', blue, 1);
  put((k.x0 + k.x1) / 2, (k.y0 + k.y1) / 2 - 0.5, k.name, 21.8, '#fff', { anchor: 'middle', weight: 700 });
  put(k.vx, k.vy, k.value, 27, '#000', { anchor: 'middle', weight: 900 });
});

// shopper icon
const shopper = svg.append('g');
shopper.append('circle').attr('cx', 1354).attr('cy', 131).attr('r', 10).attr('fill', '#b5713a');
shopper.append('rect').attr('x', 1344).attr('y', 130).attr('width', 21).attr('height', 14).attr('rx', 5).attr('fill', '#b5713a');
shopper.append('circle').attr('cx', 1354).attr('cy', 133).attr('r', 7).attr('fill', '#f6cdb0');
shopper.append('rect').attr('x', 1344).attr('y', 142).attr('width', 21).attr('height', 19).attr('rx', 2).attr('fill', '#f9a61a');
shopper.append('rect').attr('x', 1326).attr('y', 147).attr('width', 18).attr('height', 14).attr('fill', '#df4350');
shopper.append('path').attr('d', 'M1331,147V142Q1335,137 1339,142V147').attr('fill', 'none').attr('stroke', '#333').attr('stroke-width', 1);

// orders icon
const orderIcon = svg.append('g');
orderIcon.append('rect').attr('x', 1613).attr('y', 135).attr('width', 19).attr('height', 25).attr('fill', '#eef1fb').attr('stroke', '#5a5fc7').attr('stroke-width', 1.2);
orderIcon.append('rect').attr('x', 1619).attr('y', 133).attr('width', 7).attr('height', 4).attr('fill', '#444');
d3.range(5).forEach(i => orderIcon.append('line').attr('x1', 1616).attr('x2', 1629).attr('y1', 141 + i * 3.5).attr('y2', 141 + i * 3.5).attr('stroke', '#a3aed6'));
orderIcon.append('rect').attr('x', 1638).attr('y', 144).attr('width', 15).attr('height', 12).attr('fill', '#f5a742');
orderIcon.append('rect').attr('x', 1639).attr('y', 138).attr('width', 6).attr('height', 6).attr('fill', '#6ca0dc');
orderIcon.append('line').attr('x1', 1612).attr('x2', 1659).attr('y1', 161).attr('y2', 161).attr('stroke', '#b8c2d8');
orderIcon.append('circle').attr('cx', 1636).attr('cy', 122).attr('r', 3).attr('fill', '#fbbf33');
orderIcon.append('circle').attr('cx', 1629).attr('cy', 159).attr('r', 3.5).attr('fill', '#fbbf33');
orderIcon.append('path').attr('d', 'M1628,128L1644,126L1646,132L1632,134Z').attr('fill', '#aebfe4');

// sales icon
const salesIcon = svg.append('g').attr('fill', 'none').attr('stroke', '#444').attr('stroke-width', 1);
salesIcon.append('path').attr('d', 'M1311.5,247V277H1335').attr('stroke-width', 1.6);
[[1318, 263], [1324, 258], [1330, 256], [1336, 254]].forEach(b => {
  salesIcon.append('rect').attr('x', b[0]).attr('y', b[1]).attr('width', 3.6).attr('height', 274 - b[1]);
});
salesIcon.append('path').attr('d', 'M1316,259L1326,250L1334,255L1343,246').attr('stroke', '#222');
salesIcon.append('circle').attr('cx', 1342.5).attr('cy', 276).attr('r', 8.8).attr('fill', '#fff');
salesIcon.append('path').attr('d', 'M1338,275A4.6,4.6 0 0 1 1346,273M1347,277A4.6,4.6 0 0 1 1339,279');

// target icon
const target = svg.append('g').attr('fill', 'none').attr('stroke', '#111');
target.append('circle').attr('cx', 1632.5).attr('cy', 265).attr('r', 15.5).attr('stroke-width', 2.6);
target.append('circle').attr('cx', 1632.5).attr('cy', 265).attr('r', 9.2).attr('stroke-width', 2.6);
target.append('circle').attr('cx', 1632.5).attr('cy', 265).attr('r', 3.4).attr('fill', '#111');
target.append('path').attr('d', 'M1632.5,265L1648,250').attr('stroke-width', 2.2);
target.append('path').attr('d', 'M1644,248L1649,246L1651,252L1647,254Z').attr('fill', '#111');

// ---- location map ----
put(1537.5, 350, 'Location', 18, textGrey, { anchor: 'middle', weight: 700 });
put(1472.5, 378, 'customers', 11.5, textGrey);
const grad = svg.append('defs').append('linearGradient').attr('id', 'customersRamp');
grad.append('stop').attr('offset', '0%').attr('stop-color', '#dfe7f5');
grad.append('stop').attr('offset', '100%').attr('stop-color', blue);
svg.append('rect').attr('x', 1540.7).attr('y', 371.3).attr('width', 53.7).attr('height', 6).attr('fill', 'url(#customersRamp)');
put(1540, 390, '63', 11.5, textGrey, { anchor: 'middle' });
put(1594, 390, '96', 11.5, textGrey, { anchor: 'middle' });

const customerColor = d3.scaleLinear([63, 96], ['#dfe7f5', blue]);
const albers = d3.geoAlbersUsa();
const parseRings = str => str.split('|').map(ring => ring.split(' ').map(p => p.split(',').map(Number)));

const projected = Object.entries(stateOutlines).map(([name, str]) => ({
  name,
  rings: parseRings(str).map(ring => ring.map(p => albers(p)).filter(Boolean))
}));

// Bing draws the lower 48 a little taller than plain Albers, so stretch with linear scales
const lower48 = projected.filter(s => s.name !== 'Alaska' && s.name !== 'Hawaii').flatMap(s => s.rings.flat());
const mapX = d3.scaleLinear(d3.extent(lower48, p => p[0]), [1285, 1826]);
const mapY = d3.scaleLinear(d3.extent(lower48, p => p[1]), [421, 756]);
const ringLine = d3.line().x(p => mapX(p[0])).y(p => mapY(p[1]));

svg.append('g').selectAll('path')
  .data(projected)
  .join('path')
  .attr('d', s => s.rings.map(r => ringLine(r) + 'Z').join(''))
  .attr('transform', s => s.name === 'Hawaii' ? 'translate(40,-8)' : null) // Bing's inset sits further east
  .attr('fill', s => customerColor(customersByState[s.name]))
  .attr('stroke', '#fff')
  .attr('stroke-width', 0.7);

svg.append('g').selectAll('text')
  .data(stateLabels)
  .join('text')
  .attr('x', d => mapX(albers([d[1], d[2]])[0]))
  .attr('y', d => mapY(albers([d[1], d[2]])[1]))
  .attr('dy', '0.35em')
  .attr('text-anchor', 'middle')
  .attr('font-size', 11.5)
  .attr('fill', '#fff')
  .text(d => d[0]);

put(1826.5, 767, 'Powered by Bing', 4.5, '#555', { anchor: 'end' });
put(1826.5, 773, '© GeoNames, Microsoft, TomTom', 4.5, '#555', { anchor: 'end' });

// ---- site watermark ----
svg.append('text')
  .attr('x', 943).attr('y', 748)
  .attr('text-anchor', 'middle')
  .attr('font-family', '"DejaVu Sans"')
  .attr('font-weight', 700)
  .attr('font-size', 62)
  .attr('fill', '#8c8c8c')
  .attr('stroke', '#8c8c8c')
  .attr('stroke-width', 2.5)
  .attr('stroke-linejoin', 'round')
  .attr('opacity', 0.28)
  .text('مستقل');
svg.append('text')
  .attr('x', 943).attr('y', 781)
  .attr('text-anchor', 'middle')
  .attr('font-family', '"DejaVu Sans"')
  .attr('font-weight', 700)
  .attr('font-size', 29)
  .attr('fill', '#8c8c8c')
  .attr('opacity', 0.2)
  .text('mostaql.com');
</script>
</body>
</html>
